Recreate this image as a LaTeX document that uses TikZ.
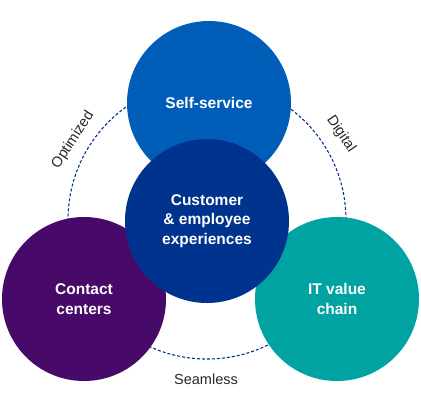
\documentclass[tikz,border=0pt]{standalone}
\usepackage{fontspec}
\setmainfont{Liberation Sans}
\definecolor{selfblue}{HTML}{005EB8}
\definecolor{coreblue}{HTML}{00338D}
\definecolor{contactpurple}{HTML}{470A68}
\definecolor{chainteal}{HTML}{00A3A1}
\begin{document}
\begin{tikzpicture}[x=1bp,y=-1bp,
  bubble/.style={circle,minimum size=164bp,inner sep=0pt,text=white,align=center,font=\bfseries\fontsize{15.5bp}{19.5bp}\selectfont},
  arclabel/.style={inner sep=1pt,text=black!85,font=\fontsize{14.5bp}{17bp}\selectfont}]
\useasboundingbox (0,0) rectangle (421,415);
\coordinate (ring) at (207,220);
\draw[coreblue,line width=1.1bp,dash pattern=on 3bp off 2bp] (ring) circle[radius=139bp];
\node[bubble,fill=contactpurple] (cc) at (84,299) {Contact\\centers};
\node[bubble,fill=chainteal] (it) at (337,299) {IT value\\chain};
\node[bubble,fill=selfblue] (ss) at (209,103) {Self-service};
\node[bubble,fill=coreblue] (cx) at (207,221) {Customer\\\& employee\\experiences};
\node[arclabel,rotate=57] (opt) at (73,140) {Optimized};
\node[arclabel,rotate=-56] (dig) at (341,134) {Digital};
\node[arclabel] (sea) at (206,379) {Seamless};
\end{tikzpicture}
\end{document}
